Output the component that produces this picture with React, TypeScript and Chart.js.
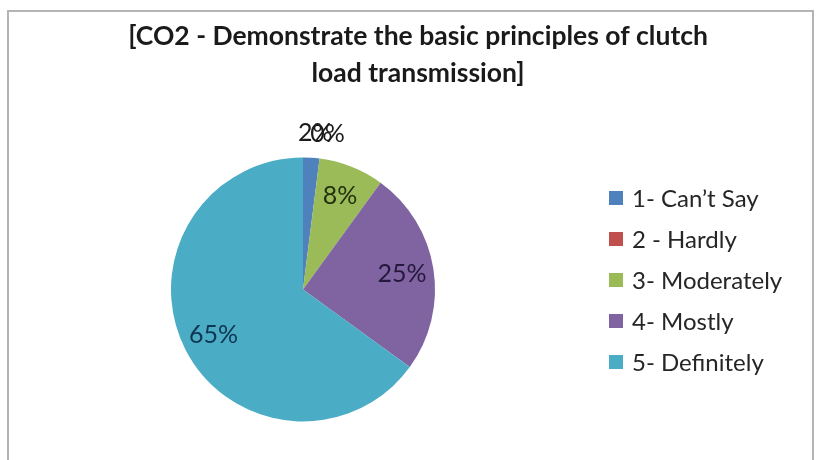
import React, { useEffect, useRef } from "react";
import { Chart, registerables } from "chart.js";

Chart.register(...registerables);

const titleLines: string[] = [
  "[CO2 - Demonstrate the basic principles of clutch",
  "load transmission]",
];
const categories: string[] = [
  "1- Can\u2019t Say",
  "2 - Hardly",
  "3- Moderately",
  "4- Mostly",
  "5- Definitely",
];
const percentages: number[] = [2, 0, 8, 25, 65];
const sliceColors: string[] = ["#4F81BD", "#C0504D", "#9BBB59", "#8064A2", "#4BACC6"];
const labelColors: string[] = ["#1a1a1a", "#1a1a1a", "#243210", "#24183c", "#0e3650"];

const FONT = "Lato, 'Open Sans', sans-serif";

const decorPlugin = {
  id: "decor",
  beforeDraw(chart: any) {
    const ctx = chart.ctx;
    ctx.save();
    ctx.fillStyle = "#ffffff";
    ctx.fillRect(0, 0, chart.width, chart.height);
    ctx.strokeStyle = "#b4b4b4";
    ctx.lineWidth = 2;
    ctx.strokeRect(8, 11, 805, 470);
    ctx.restore();
  },
  afterDraw(chart: any) {
    const ctx = chart.ctx;
    ctx.save();
    // title
    ctx.fillStyle = "#1a1a1a";
    ctx.font = `bold 26.5px ${FONT}`;
    ctx.textAlign = "center";
    ctx.textBaseline = "middle";
    titleLines.forEach((t, i) => ctx.fillText(t, 418, 36 + i * 37));

    // legend
    const labels: string[] = chart.data.labels;
    const colors: string[] = chart.data.datasets[0].backgroundColor;
    ctx.font = `24px ${FONT}`;
    ctx.textAlign = "left";
    labels.forEach((lab, i) => {
      const y = 198 + i * 41;
      ctx.fillStyle = colors[i];
      ctx.fillRect(609, y - 7, 14, 14);
      ctx.fillStyle = "#262626";
      ctx.fillText(lab, 632, y + 1);
    });

    // data labels
    const meta = chart.getDatasetMeta(0);
    const data: number[] = chart.data.datasets[0].data;
    ctx.font = `25px ${FONT}`;
    ctx.textAlign = "center";
    meta.data.forEach((arc: any, i: number) => {
      const p = arc.getProps(["x", "y", "startAngle", "endAngle", "outerRadius"], true);
      const mid = (p.startAngle + p.endAngle) / 2 + Math.PI / 2; // angle from top, clockwise
      const r = p.outerRadius;
      let x: number, y: number;
      if (data[i] < 5) {
        x = p.x + r * 1.48 * Math.sin(mid);
        y = p.y - r * 1.185 * Math.cos(mid);
      } else {
        x = p.x + r * 0.76 * Math.sin(mid);
        y = p.y - r * 0.76 * Math.cos(mid);
      }
      ctx.fillStyle = labelColors[i];
      ctx.fillText(`${data[i]}%`, x, y);
    });
    ctx.restore();
  },
};

export default function App() {
  const ref = useRef<HTMLCanvasElement | null>(null);
  useEffect(() => {
    document.body.style.margin = "0";
    if (!ref.current) return;
    const chart = new Chart(ref.current, {
      type: "pie",
      data: {
        labels: categories,
        datasets: [
          {
            data: percentages,
            backgroundColor: sliceColors,
            borderWidth: 0,
          },
        ],
      },
      options: {
        animation: false,
        responsive: false,
        maintainAspectRatio: false,
        layout: { padding: { left: 171, right: 385, top: 157.5, bottom: 38.5 } },
        plugins: {
          legend: { display: false },
          title: { display: false },
          tooltip: { enabled: false },
        },
      },
      plugins: [decorPlugin],
    });
    return () => chart.destroy();
  }, []);
  return (
    <div style={{ width: 820, height: 460 }}>
      <canvas ref={ref} width={820} height={460} style={{ display: "block" }} />
    </div>
  );
}
